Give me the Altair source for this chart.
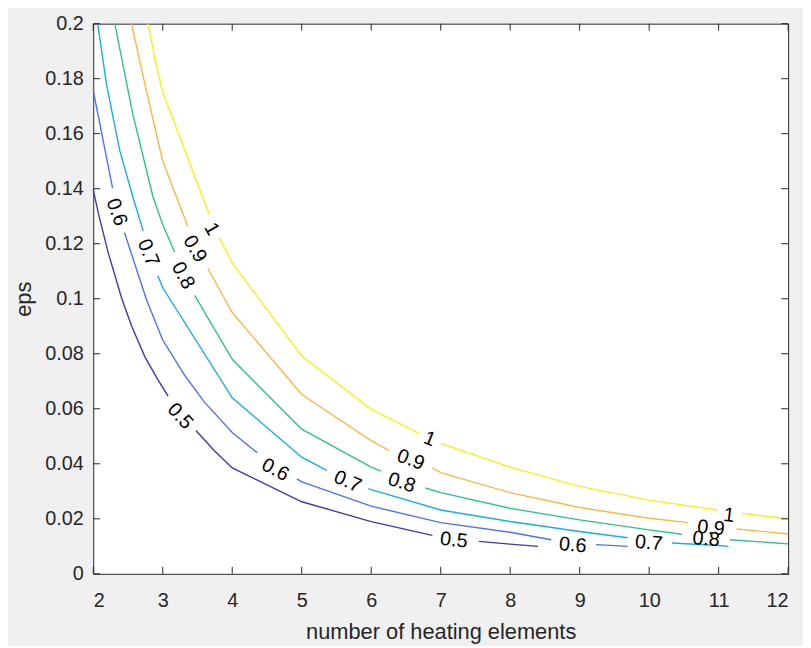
import altair as alt
import pandas as pd

# contour levels and parula-like colours
levels = ["0.5", "0.6", "0.7", "0.8", "0.9", "1"]
colors = ["#4536ae", "#4a74f2", "#17aee4", "#2ec18e", "#f8b843", "#f4f218"]

# contour polylines: per level, list of segments (gaps = label spots)
lvl05_n = [[2, 2.078, 2.22, 2.41, 2.553, 2.745, 2.934, 3.077],
           [3.48, 3.74, 4, 5, 6, 6.88], [7.55, 8, 8.40]]
lvl05_e = [[0.1396, 0.1306, 0.1163, 0.1001, 0.0900, 0.0788, 0.0704, 0.0646],
           [0.052, 0.0448, 0.0385, 0.0262, 0.019, 0.0140], [0.0118, 0.0108, 0.0100]]

lvl06_n = [[2, 2.278], [2.45, 2.77, 3, 3.32, 3.6, 4, 4.36], [4.93, 5, 6, 7, 8, 8.59], [9.235, 9.69]]
lvl06_e = [[0.1757, 0.1402], [0.124, 0.0994, 0.0850, 0.0720, 0.0624, 0.0514, 0.0440],
           [0.0345, 0.0334, 0.0246, 0.0186, 0.0151, 0.0124], [0.0106, 0.0100]]

lvl07_n = [[2.064, 2.19, 2.38, 2.57, 2.72], [2.93, 3, 4, 5, 5.36],
           [5.96, 6, 7, 8, 9, 9.69], [10.33, 11, 11.14]]
lvl07_e = [[0.200, 0.178, 0.154, 0.137, 0.1246], [0.1084, 0.104, 0.064, 0.0424, 0.0376],
           [0.0310, 0.0306, 0.0232, 0.0190, 0.0154, 0.0131], [0.0112, 0.0103, 0.0100]]

lvl08_n = [[2.31, 2.57, 2.86, 3, 3.17], [3.46, 4, 5, 6, 6.14], [6.78, 7, 8, 9, 10, 10.47], [11.16, 12]]
lvl08_e = [[0.200, 0.167, 0.137, 0.127, 0.117], [0.1012, 0.078, 0.0526, 0.0388, 0.0373],
           [0.0312, 0.0295, 0.0238, 0.0196, 0.0160, 0.0144], [0.0124, 0.0109]]

lvl09_n = [[2.55, 2.77, 3, 3.36], [3.65, 4, 5, 6, 6.26], [6.88, 7, 8, 9, 10, 10.56], [11.26, 12]]
lvl09_e = [[0.200, 0.175, 0.150, 0.1264], [0.111, 0.095, 0.0652, 0.0484, 0.0448],
           [0.0384, 0.0368, 0.0295, 0.0241, 0.0202, 0.0186], [0.0163, 0.0145]]

lvl10_n = [[2.79, 2.88, 3, 3.67], [3.81, 4, 5, 6, 6.69], [7.0, 8, 9, 10, 10.98], [11.33, 12]]
lvl10_e = [[0.200, 0.188, 0.175, 0.1306], [0.1222, 0.113, 0.0792, 0.0598, 0.0511],
           [0.0474, 0.0388, 0.0318, 0.0268, 0.0232], [0.0220, 0.0200]]

# inline contour labels
lab_text = ["0.6", "0.7", "0.8", "0.9", "1", "0.5", "0.6", "0.7", "0.8", "0.9", "1",
            "0.5", "0.6", "0.7", "0.8", "0.9", "1"]
lab_n = [2.335, 2.79, 3.29, 3.46, 3.705, 3.25, 4.62, 5.66, 6.44, 6.57, 6.84,
         7.19, 8.90, 9.995, 10.82, 10.89, 11.15]
lab_e = [0.1315, 0.1167, 0.1084, 0.1181, 0.1253, 0.0573, 0.0378, 0.0335, 0.0331, 0.0414, 0.0490,
         0.0122, 0.0104, 0.0112, 0.0126, 0.0166, 0.0212]
lab_angle = [70, 68, 62, 60, 60, 48, 28, 24, 18, 20, 22, 6, 5, 5, 5, 6, 7]

x_ticks = [2, 3, 4, 5, 6, 7, 8, 9, 10, 11, 12]
y_ticks = [0, 0.02, 0.04, 0.06, 0.08, 0.1, 0.12, 0.14, 0.16, 0.18, 0.2]

W, H = 701, 555
FONT = "Liberation Sans"
AX = "#262626"

rows = []
for lvl, ns, es in zip(levels, [lvl05_n, lvl06_n, lvl07_n, lvl08_n, lvl09_n, lvl10_n],
                       [lvl05_e, lvl06_e, lvl07_e, lvl08_e, lvl09_e, lvl10_e]):
    for s, (sn, se) in enumerate(zip(ns, es)):
        for i, (a, b) in enumerate(zip(sn, se)):
            rows.append({"level": lvl, "seg": f"{lvl}-{s}", "i": i, "n": a, "eps": b})
lines_df = pd.DataFrame(rows)
labels_df = pd.DataFrame({"t": lab_text, "n": lab_n, "eps": lab_e, "a": lab_angle})
xt_df = pd.DataFrame({"v": x_ticks})
yt_df = pd.DataFrame({"v": y_ticks})

xscale = alt.Scale(domain=[2, 12], nice=False, zero=False)
yscale = alt.Scale(domain=[0, 0.2], nice=False, zero=False)

xaxis = alt.Axis(values=x_ticks, ticks=False, tickSize=0, domain=False, grid=False, format="d",
                 labelFontSize=20, labelFont=FONT, labelColor=AX, labelPadding=17,
                 title="number of heating elements", titleFont=FONT, titleFontSize=22,
                 titleFontWeight="normal", titleColor=AX, titlePadding=11)
yaxis = alt.Axis(values=y_ticks, ticks=False, tickSize=0, domain=False, grid=False, format=".2~f",
                 labelFontSize=20, labelFont=FONT, labelColor=AX, labelPadding=10,
                 title="eps", titleFont=FONT, titleFontSize=22,
                 titleFontWeight="normal", titleColor=AX, titlePadding=9)

lines = alt.Chart(lines_df).mark_line(strokeWidth=1.4).encode(
    x=alt.X("n:Q", scale=xscale, axis=xaxis),
    y=alt.Y("eps:Q", scale=yscale, axis=yaxis),
    color=alt.Color("level:N", scale=alt.Scale(domain=levels, range=colors), legend=None),
    detail="seg:N",
    order=alt.Order("i:Q"),
)

labels = alt.Chart(labels_df).mark_text(font=FONT, fontSize=20, color="black",
                                        align="center", baseline="middle").encode(
    x=alt.X("n:Q", scale=xscale),
    y=alt.Y("eps:Q", scale=yscale),
    text="t:N",
    angle=alt.Angle("a:Q", scale=None),
)

tb = alt.Chart(xt_df).mark_rule(color=AX, strokeWidth=1).encode(
    x=alt.X("v:Q", scale=xscale), y=alt.value(H), y2=alt.value(H - 7))
tt = alt.Chart(xt_df).mark_rule(color=AX, strokeWidth=1).encode(
    x=alt.X("v:Q", scale=xscale), y=alt.value(0), y2=alt.value(7))
tl = alt.Chart(yt_df).mark_rule(color=AX, strokeWidth=1).encode(
    y=alt.Y("v:Q", scale=yscale), x=alt.value(0), x2=alt.value(7))
tr = alt.Chart(yt_df).mark_rule(color=AX, strokeWidth=1).encode(
    y=alt.Y("v:Q", scale=yscale), x=alt.value(W), x2=alt.value(W - 7))

chart = alt.layer(lines, labels, tb, tt, tl, tr).properties(
    width=W, height=H,
    autosize=alt.AutoSizeParams(type="none"),
    padding={"left": 86, "top": 13, "right": 15, "bottom": 70},
    background="#f0f0f0",
).configure_view(stroke=AX, strokeWidth=1, fill="white")

chart.save("out.html", embed_options={"renderer": "svg", "actions": False})
